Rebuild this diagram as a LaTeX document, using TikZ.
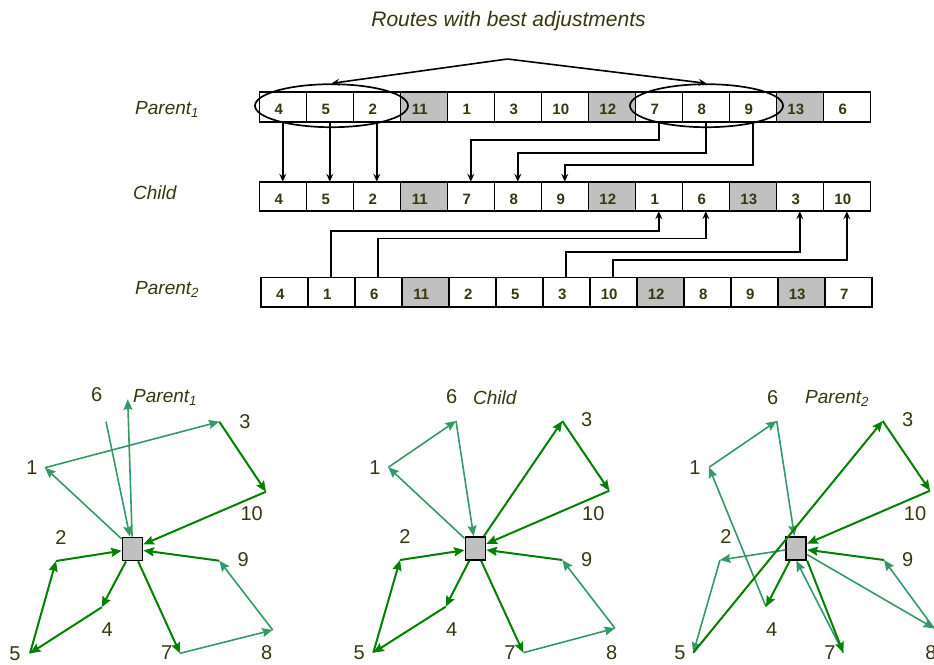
\documentclass[tikz,border=0pt]{standalone}
\usepackage{fontspec}
\setmainfont{Liberation Sans}
\usetikzlibrary{arrows.meta,shapes.geometric,calc}
\definecolor{olv}{RGB}{55,55,15}
\definecolor{dkg}{RGB}{0,128,0}
\definecolor{tea}{RGB}{51,153,102}
\definecolor{shd}{RGB}{192,192,192}
\begin{document}
\begin{tikzpicture}[x=1pt,y=-1pt,
  cellbox/.style={draw, line width=1.6pt, minimum width=47pt, minimum height=29.5pt, inner sep=0pt, outer sep=0pt},
  celltxt/.style={font=\fontsize{15}{17}\selectfont\bfseries, text=olv, inner sep=0pt},
  rowlbl/.style={font=\fontsize{19}{22}\selectfont\itshape, text=olv, inner sep=0pt, anchor=base west},
  glbl/.style={font=\fontsize{20}{24}\selectfont, text=olv, inner sep=0pt},
  blk/.style={draw=black, line width=1.6pt, -{Stealth[length=8pt,width=7pt,inset=3pt]}},
  dg/.style={draw=dkg, line width=2pt, -{Stealth[length=10.5pt,width=9pt,inset=1.5pt]}},
  tl/.style={draw=tea, line width=1.6pt, -{Stealth[length=10.5pt,width=9pt,inset=1.5pt]}},
  depot/.style={draw, line width=1.8pt, fill=shd, minimum width=20pt, minimum height=23pt, inner sep=0pt},
  oval/.style={draw, ellipse, line width=1.7pt, minimum width=153pt, minimum height=43pt, inner sep=0pt}
]
\useasboundingbox (0,0) rectangle (934,664);

% title
\node[font=\fontsize{21}{25}\selectfont\itshape, text=olv, inner sep=0pt, anchor=base] (title) at (508.5,26.5) {Routes with best adjustments};

% row labels
\node[rowlbl] (lp1) at (135,114) {Parent\textsubscript{1}};
\node[rowlbl] (lch) at (133,199) {Child};
\node[rowlbl] (lp2) at (135,294) {Parent\textsubscript{2}};

% rows
\foreach \v/\f [count=\i] in {4/white,5/white,2/white,11/shd,1/white,3/white,10/white,12/shd,7/white,8/white,9/white,13/shd,6/white} {
  \node[cellbox, fill=\f] (a\i) at ({259.3+47*(\i-0.5)},107) {};
  \node[celltxt] (ta\i) at ([xshift=-4pt,yshift=-2.5pt]a\i.center) {\v};
}
\foreach \v/\f [count=\i] in {4/white,5/white,2/white,11/shd,7/white,8/white,9/white,12/shd,1/white,6/white,13/shd,3/white,10/white} {
  \node[cellbox, fill=\f] (b\i) at ({259.3+47*(\i-0.5)},196.5) {};
  \node[celltxt] (tb\i) at ([xshift=-4pt,yshift=-2.5pt]b\i.center) {\v};
}
\foreach \v/\f [count=\i] in {4/white,1/white,6/white,11/shd,2/white,5/white,3/white,10/white,12/shd,8/white,9/white,13/shd,7/white} {
  \node[cellbox, fill=\f] (c\i) at ({260.7+47*(\i-0.5)},292.2) {};
  \node[celltxt] (tc\i) at ([xshift=-4pt,yshift=-2.5pt]c\i.center) {\v};
}

% ellipses and top arrows
\node[oval] (e1) at (331.5,105.7) {};
\node[oval] (e2) at (706.5,105.7) {};
\coordinate (apex) at (507.5,59);
\draw[blk] (apex) -- (e1.north);
\draw[blk] (apex) -- (e2.north);

% parent1 -> child
\draw[blk] (a1.south) -- (b1.north);
\draw[blk] (a2.south) -- (b2.north);
\draw[blk] (a3.south) -- (b3.north);
\draw[blk] (a9.south) -- (a9.south |- 0,140) -| (b5.north);
\draw[blk] (a10.south) -- (a10.south |- 0,153) -| (b6.north);
\draw[blk] (a11.south) -- (a11.south |- 0,165) -| (b7.north);

% parent2 -> child
\draw[blk] (c2.north) -- (c2.north |- 0,231) -| (b9.south);
\draw[blk] (c3.north) -- (c3.north |- 0,238.5) -| (b10.south);
\draw[blk] (c7.north) -- (c7.north |- 0,252) -| (b12.south);
\draw[blk] (c8.north) -- (c8.north |- 0,259.7) -| (b13.south);

% ================= graph 1 (Parent1)
\node[depot] (D1) at (132.5,549) {};
\coordinate (g1p1) at (45,467.7);
\coordinate (g1p2) at (56,561);
\coordinate (g1p3) at (219.3,421.7);
\coordinate (g1p4) at (101.7,607.3);
\coordinate (g1p5) at (30,653.3);
\coordinate (g1p6) at (106,421.7);
\coordinate (g1p6u) at (127.7,399.3);
\coordinate (g1p7) at (180,653.3);
\coordinate (g1p8) at (272.7,630);
\coordinate (g1p9) at (219.3,560.7);
\coordinate (g1p10) at (266,491.7);
\node[glbl] (g1l1) at (32,468) {1};
\node[glbl] (g1l2) at (61,538) {2};
\node[glbl] (g1l3) at (245,422) {3};
\node[glbl] (g1l4) at (107.3,629.3) {4};
\node[glbl] (g1l5) at (15,653.3) {5};
\node[glbl] (g1l6) at (96.7,395) {6};
\node[glbl] (g1l7) at (166.7,652.7) {7};
\node[glbl] (g1l8) at (266.7,652.7) {8};
\node[glbl] (g1l9) at (243.3,560) {9};
\node[glbl] (g1l10) at (251.7,514) {10};
\node[rowlbl] (g1t) at (133,402) {Parent\textsubscript{1}};
\draw[tl] (D1) -- (g1p1);
\draw[tl] (g1p1) -- (g1p3);
\draw[tl] (g1p7) -- (g1p8);
\draw[tl] (g1p8) -- (g1p9);
\draw[tl] (g1p6) -- (D1);
\draw[tl] (D1) -- (g1p6u);
\draw[dg] (D1) -- (g1p4);
\draw[dg] (g1p4) -- (g1p5);
\draw[dg] (g1p5) -- (g1p2);
\draw[dg] (g1p2) -- (D1);
\draw[dg] (g1p3) -- (g1p10);
\draw[dg] (g1p10) -- (D1);
\draw[dg] (D1) -- (g1p7);
\draw[dg] (g1p9) -- (D1);

% ================= graph 2 (Child)
\node[depot] (D2) at (475.5,548.5) {};
\coordinate (g2p1) at (388.3,467.3);
\coordinate (g2p2) at (400,560);
\coordinate (g2p3) at (562.3,421);
\coordinate (g2p4) at (445.7,606.7);
\coordinate (g2p5) at (373.3,652.7);
\coordinate (g2p6) at (456,421);
\coordinate (g2p7) at (523.3,652.7);
\coordinate (g2p8) at (615,628.3);
\coordinate (g2p9) at (562.3,560);
\coordinate (g2p10) at (609.3,490.7);
\node[glbl] (g2l1) at (375,468) {1};
\node[glbl] (g2l2) at (405,536.7) {2};
\node[glbl] (g2l3) at (586.7,420) {3};
\node[glbl] (g2l4) at (451.7,629.3) {4};
\node[glbl] (g2l5) at (359.3,652.7) {5};
\node[glbl] (g2l6) at (451.7,396.7) {6};
\node[glbl] (g2l7) at (510,652.7) {7};
\node[glbl] (g2l8) at (611.7,652.7) {8};
\node[glbl] (g2l9) at (586.7,559.3) {9};
\node[glbl] (g2l10) at (593.3,513.3) {10};
\node[rowlbl] (g2t) at (473,404) {Child};
\draw[tl] (D2) -- (g2p1);
\draw[tl] (g2p1) -- (g2p6);
\draw[tl] (g2p6) -- (D2);
\draw[tl] (g2p7) -- (g2p8);
\draw[tl] (g2p8) -- (g2p9);
\draw[dg] (D2) -- (g2p4);
\draw[dg] (g2p4) -- (g2p5);
\draw[dg] (g2p5) -- (g2p2);
\draw[dg] (g2p2) -- (D2);
\draw[dg] (D2) -- (g2p3);
\draw[dg] (g2p3) -- (g2p10);
\draw[dg] (g2p10) -- (D2);
\draw[dg] (D2) -- (g2p7);
\draw[dg] (g2p9) -- (D2);

% ================= graph 3 (Parent2)
\node[depot] (D3) at (796.3,548.3) {};
\coordinate (g3p1) at (709,467.3);
\coordinate (g3p2) at (720,560);
\coordinate (g3p3) at (882.7,421);
\coordinate (g3p4) at (766,606.7);
\coordinate (g3p5) at (693.3,652.7);
\coordinate (g3p6) at (776.7,421);
\coordinate (g3p7) at (843.3,652.7);
\coordinate (g3p8) at (934,628.3);
\coordinate (g3p9) at (884,560);
\coordinate (g3p10) at (930,490.7);
\node[glbl] (g3l1) at (695,467.3) {1};
\node[glbl] (g3l2) at (726,536.7) {2};
\node[glbl] (g3l3) at (907.7,420) {3};
\node[glbl] (g3l4) at (771.7,629.3) {4};
\node[glbl] (g3l5) at (680,652.7) {5};
\node[glbl] (g3l6) at (772.7,397.3) {6};
\node[glbl] (g3l7) at (830,652.7) {7};
\node[glbl] (g3l8) at (931,652.7) {8};
\node[glbl] (g3l9) at (907.7,559.3) {9};
\node[glbl] (g3l10) at (915,513.3) {10};
\node[rowlbl] (g3t) at (805,403) {Parent\textsubscript{2}};
\draw[tl] (g3p4) -- (g3p1);
\draw[tl] (g3p1) -- (g3p6);
\draw[tl] (g3p6) -- (D3);
\draw[tl] (D3) -- (g3p2);
\draw[tl] (g3p2) -- (g3p5);
\draw[tl] (D3) -- (g3p8);
\draw[tl] (g3p8) -- (g3p9);
\draw[tl] (g3p7) -- (D3.south);
\draw[dg] (D3) -- (g3p4);
\draw[dg] (g3p5) -- (g3p3);
\draw[dg] (g3p3) -- (g3p10);
\draw[dg] (g3p10) -- (D3);
\draw[dg] (g3p9) -- (D3);
\draw[dg] (D3.south east) -- (g3p7);
\end{tikzpicture}
\end{document}
